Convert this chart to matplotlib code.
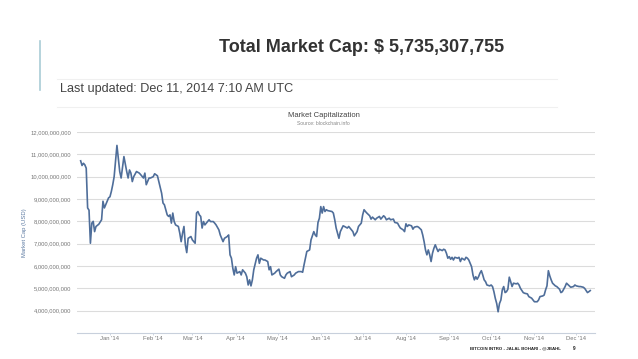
import numpy as np
import pandas as pd
import matplotlib
matplotlib.use("Agg")
import matplotlib.pyplot as plt
import matplotlib.dates as mdates
from matplotlib.ticker import FuncFormatter, FixedLocator

plt.rcParams['font.family'] = ['Liberation Sans', 'DejaVu Sans']

# days counted from 1 Jan 2014, market cap in billions of USD
days = [-21, -20, -19, -18, -17, -16, -15, -14, -13, -12, -11, -10, -8, -6, -5, -4, -2, -1,
        0, 1, 2, 3, 4, 5, 6, 7, 8, 10, 12, 13, 14, 15, 16, 17, 19, 21, 22, 24, 25, 26, 28, 29,
        31, 32, 34, 35, 37, 38, 39, 41, 42, 43, 44, 45, 46, 47, 49, 50, 51, 52, 53, 54, 55, 56, 58,
        59, 61, 62, 63, 64, 65, 66, 67, 68, 69, 71, 72, 74, 75, 76, 78, 79, 81, 82, 84, 85, 86, 87, 88, 89,
        90, 91, 93, 94, 95, 97, 98, 99, 100, 101, 102, 103, 105, 106, 107, 108, 110, 111, 113, 114, 115, 116, 118, 119,
        121, 122, 123, 125, 126, 127, 129, 130, 132, 133, 135, 137, 138, 139, 140, 141, 143, 144, 146, 147, 148, 149,
        150, 151, 152, 153, 154, 155, 156, 159, 160, 161, 162, 164, 165, 167, 168, 170, 171, 173, 174, 175, 177, 178,
        180, 181, 182, 183, 184, 186, 187, 188, 190, 191, 193, 194, 196, 197, 198, 200, 201, 203, 204, 206, 207, 208, 210, 211,
        212, 213, 214, 216, 217, 218, 220, 221, 223, 224, 225, 226, 227, 228, 229, 230, 231, 232, 233, 234, 235, 236, 238, 239, 240,
        241, 242, 243, 244, 245, 246, 247, 249, 250, 251, 252, 254, 255, 256, 257, 259, 260, 261, 262, 263, 264, 265, 266, 267, 268, 269, 270,
        272, 273, 274, 275, 276, 277, 278, 279, 280, 281, 282, 283, 284, 285, 286, 287, 288, 289, 291, 292, 293, 294, 296, 297, 299, 300, 302,
        303, 304, 306, 307, 308, 310, 311, 312, 313, 314, 315, 316, 317, 319, 320, 322, 323, 324, 326, 327, 329, 330, 332, 333, 334, 336, 337, 339, 340, 342, 343, 344]
cap = [10.71, 10.50, 10.60, 10.53, 10.38, 8.60, 8.50, 7.02, 7.92, 8.00, 7.54, 7.77, 7.87, 8.07, 8.90, 8.60, 8.90, 9.05,
       9.10, 9.34, 9.64, 10.00, 10.68, 11.40, 10.83, 10.23, 9.94, 10.90, 10.23, 9.94, 10.30, 10.16, 9.78, 10.00, 10.23, 10.16, 10.09, 9.94, 10.16, 9.64, 9.94, 9.94,
       10.00, 10.13, 10.04, 9.78, 9.26, 8.82, 8.74, 8.29, 8.22, 8.29, 7.92, 8.37, 7.99, 7.84, 7.77, 7.47, 7.09, 7.47, 7.77, 6.95, 6.60, 7.24, 7.32,
       7.17, 7.02, 8.37, 8.44, 8.29, 8.22, 7.70, 7.99, 7.84, 7.92, 8.07, 7.99, 7.99, 7.92, 7.84, 7.62, 7.39, 7.09, 7.24, 7.32, 7.39, 6.50, 6.35, 5.90, 5.60,
       5.97, 5.68, 5.75, 5.60, 5.83, 5.68, 5.52, 5.15, 5.38, 5.11, 5.38, 5.83, 6.35, 6.50, 6.12, 6.35, 6.27, 6.27, 6.20, 5.83, 5.97, 5.60, 5.68, 5.75,
       5.86, 5.60, 5.52, 5.45, 5.60, 5.68, 5.75, 5.52, 5.60, 5.68, 5.75, 5.75, 5.72, 6.05, 6.35, 6.65, 6.72, 7.17, 7.54, 7.39, 7.32, 7.95,
       8.14, 8.66, 8.37, 8.66, 8.44, 8.52, 8.48, 8.44, 8.37, 8.07, 7.70, 7.24, 7.54, 7.80, 7.77, 7.70, 7.77, 7.62, 7.54, 7.35, 7.54, 7.77,
       7.92, 8.29, 8.52, 8.44, 8.37, 8.25, 8.10, 8.19, 8.07, 8.14, 8.22, 8.10, 8.25, 8.19, 8.07, 8.14, 8.07, 8.10, 7.95, 7.92, 7.80, 7.70, 7.62, 7.54,
       7.89, 7.77, 7.84, 7.80, 7.65, 7.74, 7.77, 7.74, 7.62, 7.39, 7.09, 6.72, 6.50, 6.72, 6.50, 6.20, 6.57, 6.79, 6.95, 6.79, 6.65, 6.75, 6.69, 6.75, 6.72,
       6.57, 6.35, 6.42, 6.30, 6.39, 6.27, 6.39, 6.35, 6.39, 6.20, 6.35, 6.27, 6.39, 6.35, 6.27, 5.97, 5.60, 5.38, 5.52, 5.41, 5.52, 5.68, 5.79, 5.60, 5.38, 5.30, 5.15,
       5.11, 5.15, 5.08, 4.85, 4.55, 4.32, 3.95, 4.32, 4.48, 4.93, 5.08, 4.81, 4.85, 4.96, 5.50, 5.30, 5.08, 5.23, 5.20, 5.23, 5.15, 5.00, 4.81, 4.78, 4.75, 4.63, 4.56,
       4.48, 4.40, 4.40, 4.48, 4.63, 4.66, 4.70, 4.93, 5.11, 5.79, 5.56, 5.38, 5.23, 5.11, 5.08, 4.96, 4.81, 4.85, 5.08, 5.23, 5.11, 5.05, 5.08, 5.15, 5.11, 5.08, 5.08, 5.05, 5.00, 4.81, 4.85, 4.90]

month_labels = ["Jan '14", "Feb '14", "Mar '14", "Apr '14", "May '14", "Jun '14",
                "Jul '14", "Aug '14", "Sep '14", "Oct '14", "Nov '14", "Dec '14"]
y_ticks = [4e9, 5e9, 6e9, 7e9, 8e9, 9e9, 10e9, 11e9, 12e9]

start = pd.Timestamp('2014-01-01')
dates = start + pd.to_timedelta(days, unit='D')
values = np.array(cap) * 1e9

fig = plt.figure(figsize=(6.38, 3.59), dpi=100)
ax = fig.add_axes([0.1207, 0.0724, 0.8119, 0.5599])

ax.plot(dates, values, color='#4f6e9a', lw=1.2)

ax.set_ylim(3e9, 12e9)
ax.set_xlim(start - pd.Timedelta(days=23.6), start + pd.Timedelta(days=347.4))
ax.yaxis.set_major_locator(FixedLocator(y_ticks))
ax.yaxis.set_major_formatter(FuncFormatter(lambda v, p: '{:,.0f}'.format(v)))
month_starts = pd.date_range('2014-01-01', periods=12, freq='MS')
ax.set_xticks(mdates.date2num(month_starts))
ax.set_xticklabels(month_labels)

ax.grid(axis='y', color='#dcdcdc', lw=0.8)
for s in ['top', 'right', 'left']:
    ax.spines[s].set_visible(False)
ax.spines['bottom'].set_color('#c8d0dc')
ax.spines['bottom'].set_linewidth(0.8)
ax.tick_params(axis='y', length=0, labelsize=4.2, colors='#777777', pad=4)
ax.tick_params(axis='x', length=1.5, width=0.6, color='#c8d0dc', labelsize=4.2,
               labelcolor='#777777', pad=0.8)
ax.set_ylabel('Market Cap (USD)', fontsize=4.2, color='#5a78a0', labelpad=10)
ax.yaxis.set_label_coords(-0.096, 0.5)

# header
fig.text(0.567, 0.869, 'Total Market Cap: $ 5,735,307,755', fontsize=13,
         fontweight='bold', color='#333333', ha='center', va='center')
fig.text(0.094, 0.752, 'Last updated: Dec 11, 2014 7:10 AM UTC', fontsize=9.1,
         color='#444444', ha='left', va='center')
fig.add_artist(plt.Line2D([0.063, 0.063], [0.75, 0.885], color='#a9ccd6', lw=1.2))
fig.add_artist(plt.Line2D([0.09, 0.873], [0.78, 0.78], color='#f0f0f0', lw=0.8))
fig.add_artist(plt.Line2D([0.09, 0.873], [0.702, 0.702], color='#f0f0f0', lw=0.8))

fig.text(0.507, 0.677, 'Market Capitalization', fontsize=5.5, color='#444444',
         ha='center', va='center')
fig.text(0.507, 0.655, 'Source: blockchain.info', fontsize=3.6, color='#888888',
         ha='center', va='center')

fig.text(0.737, 0.030, 'BITCOIN INTRO - JALAL BOHARI - @JBAHL', fontsize=3.2,
         fontweight='bold', color='#222222', ha='left', va='center')
fig.text(0.898, 0.030, '9', fontsize=3.4, fontweight='bold', color='#222222',
         ha='left', va='center')

fig.savefig('out.png', dpi=100)
